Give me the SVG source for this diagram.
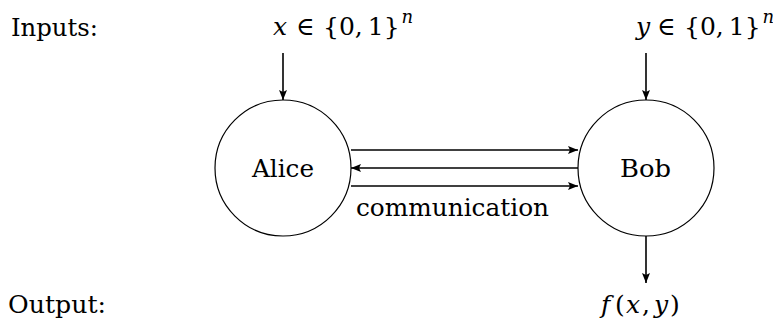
<svg xmlns="http://www.w3.org/2000/svg" width="773" height="324" viewBox="0 0 773 324">
<style>
text{font-family:'DejaVu Serif',serif;font-size:25px;fill:#000}
.it{font-style:italic}
.sup{font-style:italic;font-size:18px}
.node{fill:#fff;stroke:#000;stroke-width:1.2}
.conn{stroke:#000;stroke-width:1.6;fill:none}
</style>
<defs>
<marker id="ah" viewBox="0 0 10 8" refX="10" refY="4" markerWidth="10" markerHeight="8" markerUnits="userSpaceOnUse" orient="auto">
<path d="M0,0 L10,4 L0,8 L2,4 Z" fill="#000"/>
</marker>
</defs>
<rect width="773" height="324" fill="#fff"/>
<text x="11" y="36" textLength="87" lengthAdjust="spacingAndGlyphs">Inputs:</text>
<text x="8" y="313" textLength="98" lengthAdjust="spacingAndGlyphs">Output:</text>
<text id="xin" y="35"><tspan class="it" x="273">x</tspan><tspan x="296">∈</tspan><tspan x="323">{0,&#8201;1}</tspan><tspan class="sup" dx="2" y="23">n</tspan></text>
<text id="yin" y="35"><tspan class="it" x="636">y</tspan><tspan x="657">∈</tspan><tspan x="684">{0,&#8201;1}</tspan><tspan class="sup" dx="2" y="23">n</tspan></text>
<text id="fout" y="313"><tspan class="it" x="601">f</tspan><tspan x="615">(</tspan><tspan class="it" x="626">x</tspan><tspan x="642">,</tspan><tspan class="it" x="654">y</tspan><tspan x="670">)</tspan></text>
<g id="alice">
<circle class="node" cx="283" cy="168" r="68"/>
<text x="252" y="177" textLength="62" lengthAdjust="spacingAndGlyphs">Alice</text>
</g>
<g id="bob">
<circle class="node" cx="646" cy="168" r="68"/>
<text x="620" y="177" textLength="51" lengthAdjust="spacingAndGlyphs">Bob</text>
</g>
<g id="connectors">
<line class="conn" x1="283" y1="53" x2="283" y2="100" marker-end="url(#ah)"/>
<line class="conn" x1="646" y1="53" x2="646" y2="100" marker-end="url(#ah)"/>
<line class="conn" x1="646" y1="236" x2="646" y2="283" marker-end="url(#ah)"/>
<line class="conn" x1="351" y1="150" x2="578" y2="150" marker-end="url(#ah)"/>
<line class="conn" x1="578" y1="168" x2="351" y2="168" marker-end="url(#ah)"/>
<line class="conn" x1="351" y1="186" x2="578" y2="186" marker-end="url(#ah)"/>
<text x="356" y="216" textLength="193" lengthAdjust="spacingAndGlyphs">communication</text>
</g>
</svg>
